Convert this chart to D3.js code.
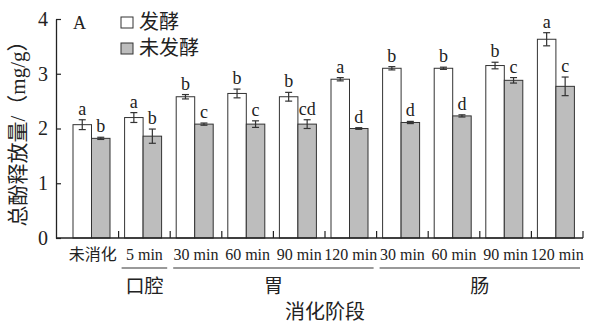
<!DOCTYPE html>
<html lang="zh">
<head>
  <meta charset="UTF-8">
  <title>总酚释放量</title>
  <script src="https://cdn.jsdelivr.net/npm/d3@7"></script>
  <style>
    body { margin: 0; background: #fff; }
    text { font-family: "Liberation Serif", "Noto Sans CJK SC", serif; fill: #222; }
  </style>
</head>
<body>
  <div id="grafica"></div>

  <script>
    // datos
    cats = ['未消化', '5 min', '30 min', '60 min', '90 min', '120 min', '30 min', '60 min', '90 min', '120 min']
    series = ['发酵', '未发酵']
    fermented = [2.07, 2.20, 2.58, 2.64, 2.58, 2.90, 3.10, 3.10, 3.15, 3.63]
    fermErr = [0.09, 0.09, 0.04, 0.08, 0.08, 0.03, 0.03, 0.02, 0.06, 0.12]
    fermSig = ['a', 'a', 'b', 'b', 'b', 'a', 'b', 'b', 'b', 'a']
    unfermented = [1.82, 1.86, 2.08, 2.08, 2.08, 2.00, 2.11, 2.23, 2.88, 2.77]
    unfermErr = [0.02, 0.13, 0.02, 0.06, 0.08, 0.015, 0.02, 0.02, 0.05, 0.17]
    unfermSig = ['b', 'b', 'c', 'c', 'cd', 'd', 'd', 'd', 'c', 'c']
    stages = [['口腔', 1, 1], ['胃', 2, 5], ['肠', 6, 9]]
    yTicks = [0, 1, 2, 3, 4]

    ancho = 600
    alto = 330
    colores = ['#ffffff', '#bdbdbd']

    svg = d3.select('#grafica')
      .append('svg')
      .attr('width', ancho)
      .attr('height', alto)

    x = d3.scaleBand()
      .domain(d3.range(cats.length))
      .range([67, 583])
    xs = d3.scaleBand()
      .domain(series)
      .range([6, 43])
    y = d3.scaleLinear()
      .domain([0, 4])
      .range([238, 19])

    data = []
    cats.forEach(function(c, i) {
      data.push({ i: i, s: series[0], v: fermented[i], e: fermErr[i], sig: fermSig[i] })
      data.push({ i: i, s: series[1], v: unfermented[i], e: unfermErr[i], sig: unfermSig[i] })
    })

    // barras
    svg.selectAll('rect.bar')
      .data(data)
      .enter()
      .append('rect')
      .attr('class', 'bar')
      .attr('x', d => x(d.i) + xs(d.s))
      .attr('y', d => y(d.v))
      .attr('width', xs.bandwidth())
      .attr('height', d => y(0) - y(d.v))
      .attr('fill', d => d.s == series[0] ? colores[0] : colores[1])
      .attr('stroke', '#333')
      .attr('stroke-width', 1)

    // barras de error
    eb = svg.selectAll('g.err')
      .data(data)
      .enter()
      .append('g')
      .attr('class', 'err')
      .attr('stroke', '#333')
      .attr('stroke-width', 1.2)
    eb.append('line')
      .attr('x1', d => x(d.i) + xs(d.s) + xs.bandwidth() / 2)
      .attr('x2', d => x(d.i) + xs(d.s) + xs.bandwidth() / 2)
      .attr('y1', d => y(d.v - d.e))
      .attr('y2', d => y(d.v + d.e))
    eb.append('line')
      .attr('x1', d => x(d.i) + xs(d.s) + xs.bandwidth() / 2 - 3.5)
      .attr('x2', d => x(d.i) + xs(d.s) + xs.bandwidth() / 2 + 3.5)
      .attr('y1', d => y(d.v + d.e))
      .attr('y2', d => y(d.v + d.e))
    eb.append('line')
      .attr('x1', d => x(d.i) + xs(d.s) + xs.bandwidth() / 2 - 3.5)
      .attr('x2', d => x(d.i) + xs(d.s) + xs.bandwidth() / 2 + 3.5)
      .attr('y1', d => y(d.v - d.e))
      .attr('y2', d => y(d.v - d.e))

    // letras de significancia
    svg.selectAll('text.sig')
      .data(data)
      .enter()
      .append('text')
      .attr('class', 'sig')
      .attr('x', d => x(d.i) + xs(d.s) + xs.bandwidth() / 2)
      .attr('y', d => y(d.v + d.e) - 5)
      .attr('text-anchor', 'middle')
      .attr('font-size', 18)
      .text(d => d.sig)

    // eje y
    yAxis = svg.append('g')
      .attr('transform', 'translate(56,0)')
      .call(d3.axisLeft(y).tickValues(yTicks).tickFormat(d3.format('d'))
        .tickSizeInner(-5).tickSizeOuter(0).tickPadding(8))
      .attr('font-family', '"Liberation Serif", serif')
    yAxis.select('.domain').attr('stroke', '#222').attr('stroke-width', 1.3)
    yAxis.selectAll('.tick line').attr('stroke', '#222').attr('stroke-width', 1.2)
    yAxis.selectAll('.tick text')
      .attr('font-size', 20)
      .attr('fill', '#222')

    // eje x
    svg.append('line')
      .attr('x1', 56).attr('x2', x.range()[1])
      .attr('y1', y(0)).attr('y2', y(0))
      .attr('stroke', '#222').attr('stroke-width', 1.3)
    svg.selectAll('line.xtick')
      .data(d3.range(cats.length))
      .enter()
      .append('line')
      .attr('class', 'xtick')
      .attr('x1', d => x(d) + x.bandwidth())
      .attr('x2', d => x(d) + x.bandwidth())
      .attr('y1', y(0))
      .attr('y2', y(0) - 7)
      .attr('stroke', '#222').attr('stroke-width', 1.2)

    svg.selectAll('text.xlab')
      .data(cats)
      .enter()
      .append('text')
      .attr('class', 'xlab')
      .attr('x', (d, i) => x(i) + x.bandwidth() / 2)
      .attr('y', 260)
      .attr('text-anchor', 'middle')
      .attr('font-size', 16)
      .text(d => d)

    // etapas de digestion
    svg.selectAll('line.stage')
      .data(stages)
      .enter()
      .append('line')
      .attr('class', 'stage')
      .attr('x1', d => x(d[1]) + 3)
      .attr('x2', d => x(d[2]) + x.bandwidth() - 3)
      .attr('y1', 268).attr('y2', 268)
      .attr('stroke', '#777').attr('stroke-width', 1.3)
    svg.selectAll('text.stage')
      .data(stages)
      .enter()
      .append('text')
      .attr('class', 'stage')
      .attr('x', d => (x(d[1]) + x(d[2]) + x.bandwidth()) / 2)
      .attr('y', 293)
      .attr('text-anchor', 'middle')
      .attr('font-size', 19)
      .text(d => d[0])

    svg.append('text')
      .attr('x', (x.range()[0] + x.range()[1]) / 2)
      .attr('y', 319)
      .attr('text-anchor', 'middle')
      .attr('font-size', 20)
      .text('消化阶段')

    svg.append('text')
      .attr('transform', 'translate(25,' + (y(0) + y(4)) / 2 + ') rotate(-90)')
      .attr('text-anchor', 'middle')
      .attr('font-size', 21)
      .text('总酚释放量/（mg/g）')

    svg.append('text')
      .attr('x', 73)
      .attr('y', 29)
      .attr('font-size', 18)
      .text('A')

    // leyenda
    ley = svg.selectAll('g.ley')
      .data(series)
      .enter()
      .append('g')
      .attr('class', 'ley')
      .attr('transform', (d, i) => 'translate(121,' + (17 + i * 26) + ')')
    ley.append('rect')
      .attr('width', 12).attr('height', 11)
      .attr('fill', (d, i) => colores[i])
      .attr('stroke', '#333')
    ley.append('text')
      .attr('x', 18)
      .attr('y', 12)
      .attr('font-size', 20)
      .text(d => d)
  </script>
</body>
</html>
